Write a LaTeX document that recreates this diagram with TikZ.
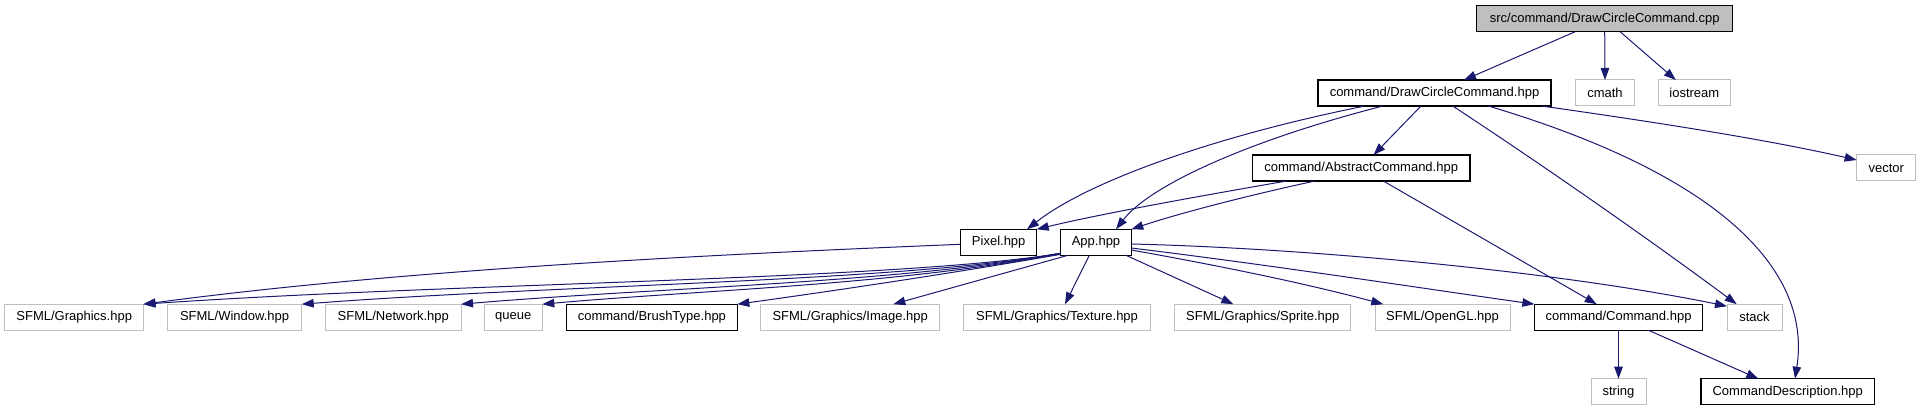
\documentclass[tikz,border=0pt]{standalone}
\usepackage{fontspec}
\setmainfont{Liberation Sans}
\usetikzlibrary{arrows.meta}
\definecolor{edgec}{HTML}{191970}
\definecolor{greyb}{HTML}{BFBFBF}
\begin{document}
\begin{tikzpicture}[x=1pt,y=-1pt,
 box/.style={draw=black,line width=1.2pt,minimum height=26pt,inner sep=0pt,outer sep=0pt,font=\fontsize{13}{15}\selectfont,text=black},
 ext/.style={box,draw=greyb,line width=1pt},
 root/.style={box,fill=greyb},
 dep/.style={draw=edgec,line width=1pt,-{Triangle[length=12pt,width=8.5pt]}}]
\useasboundingbox (0,0) rectangle (1921,411);
% nodes
\node[root,minimum width=256pt] (cpp) at (1604.7,18.7) {src/command/DrawCircleCommand.cpp};
\node[box,minimum width=233pt] (hpp) at (1434.5,93) {command/DrawCircleCommand.hpp};
\node[ext,minimum width=59pt] (cmath) at (1605,93) {cmath};
\node[ext,minimum width=72pt] (iostream) at (1694.3,93) {iostream};
\node[ext,minimum width=59.3pt] (vector) at (1886.3,168) {vector};
\node[box,minimum width=217.7pt] (abs) at (1361.2,168) {command/AbstractCommand.hpp};
\node[box,minimum width=76pt] (pixel) at (998.7,242.3) {Pixel.hpp};
\node[box,minimum width=70.6pt] (app) at (1096,242.3) {App.hpp};
\node[ext,minimum width=138.5pt] (gfx) at (74.2,317.2) {SFML/Graphics.hpp};
\node[ext,minimum width=134.2pt] (win) at (234.6,317.2) {SFML/Window.hpp};
\node[ext,minimum width=135.4pt] (net) at (393.3,317.2) {SFML/Network.hpp};
\node[ext,minimum width=58pt] (queue) at (513.3,317.2) {queue};
\node[box,minimum width=170.8pt] (brush) at (651.9,317.2) {command/BrushType.hpp};
\node[ext,minimum width=178.5pt] (image) at (850.2,317.2) {SFML/Graphics/Image.hpp};
\node[ext,minimum width=186.4pt] (texture) at (1057,317.2) {SFML/Graphics/Texture.hpp};
\node[ext,minimum width=175.7pt] (sprite) at (1262.8,317.2) {SFML/Graphics/Sprite.hpp};
\node[ext,minimum width=135pt] (opengl) at (1442.5,317.2) {SFML/OpenGL.hpp};
\node[box,minimum width=168.3pt] (cmd) at (1618.5,317.2) {command/Command.hpp};
\node[ext,minimum width=55pt] (stack) at (1754.5,317.2) {stack};
\node[ext,minimum width=55pt] (string) at (1618.5,391.7) {string};
\node[box,minimum width=173.3pt] (desc) at (1787.7,391.7) {CommandDescription.hpp};
% edges
\draw[dep] ([xshift=-29.5pt]cpp.south) -- ([xshift=29.5pt]hpp.north);
\draw[dep] (cpp.south) -- (cmath.north);
\draw[dep] ([xshift=15.4pt]cpp.south) -- ([xshift=-18.5pt]iostream.north);
\draw[dep] ([xshift=-69.5pt]hpp.south) .. controls (1220,135) and (1090,180) .. ([xshift=28.3pt]pixel.north);
\draw[dep] ([xshift=-51.5pt]hpp.south) .. controls (1250,140) and (1150,185) .. ([xshift=20pt]app.north);
\draw[dep] ([xshift=-13.5pt]hpp.south) -- ([xshift=12.3pt]abs.north);
\draw[dep] ([xshift=18.2pt]hpp.south) .. controls (1550,170) and (1650,240) .. ([xshift=-17.8pt]stack.north);
\draw[dep] ([xshift=53.8pt]hpp.south) .. controls (1720,175) and (1812,270) .. ([xshift=7.3pt]desc.north);
\draw[dep] ([xshift=107.2pt]hpp.south) .. controls (1640,120) and (1760,138) .. ([yshift=8pt]vector.west);
\draw[dep] ([xshift=-74.5pt]abs.south) .. controls (1200,196) and (1100,214) .. (pixel.north east);
\draw[dep] ([xshift=-46.2pt]abs.south) .. controls (1250,195) and (1180,213) .. (app.north east);
\draw[dep] ([xshift=22.1pt]abs.south) -- ([xshift=-21.8pt]cmd.north);
\draw[dep] ([yshift=-2pt]pixel.west) .. controls (700,255) and (400,270) .. (gfx.north east);
\draw[dep] ([yshift=2pt]app.south west) .. controls (900,280) and (450,283) .. (gfx.north east);
\draw[dep] ([yshift=2pt]app.south west) .. controls (900,282) and (550,285) .. (win.north east);
\draw[dep] ([yshift=2pt]app.south west) .. controls (900,283) and (650,288) .. (net.north east);
\draw[dep] ([yshift=2pt]app.south west) .. controls (900,285) and (700,290) .. (queue.north east);
\draw[dep] ([yshift=1pt]app.south west) .. controls (960,272) and (840,290) .. (brush.north east);
\draw[dep] ([xshift=7.3pt]app.south west) -- ([xshift=43.1pt]image.north);
\draw[dep] ([xshift=-6.7pt]app.south) -- ([xshift=8pt]texture.north);
\draw[dep] ([xshift=30pt]app.south) -- ([xshift=-29.5pt]sprite.north);
\draw[dep] ([yshift=-7.7pt]app.east) .. controls (1215,265) and (1300,282) .. ([xshift=8.3pt]opengl.north west);
\draw[dep] ([yshift=-5.7pt]app.east) .. controls (1270,265) and (1400,285) .. (cmd.north west);
\draw[dep] ([yshift=-1.7pt]app.east) .. controls (1300,248) and (1550,270) .. ([yshift=-2pt]stack.north west);
\draw[dep] (cmd.south) -- (string.north);
\draw[dep] ([xshift=29.8pt]cmd.south) -- ([xshift=-29.4pt]desc.north);
\end{tikzpicture}
\end{document}
